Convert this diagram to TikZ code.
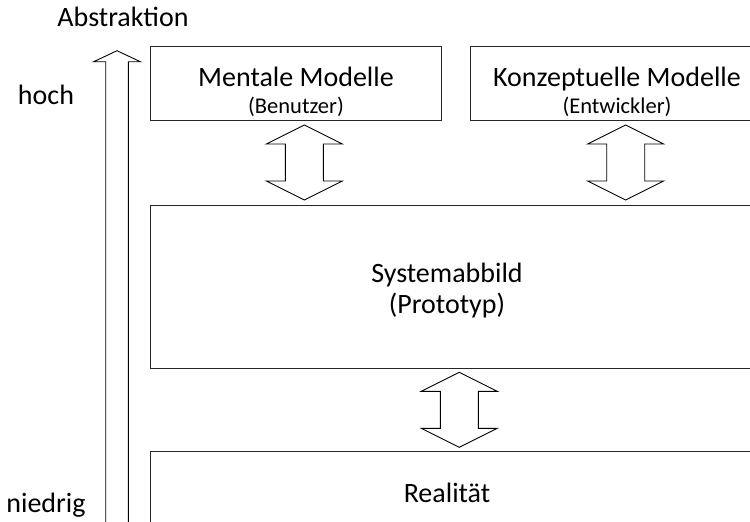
\documentclass[tikz,border=0pt]{standalone}
\usepackage{fontspec}
\setmainfont{Carlito}
\usetikzlibrary{calc}

\tikzset{
  frame/.style={draw=black!85, line width=0.9pt},
  blockarrow/.style={draw=black, line width=0.9pt, fill=white, line join=miter},
  bigtext/.style={font=\fontsize{28}{30}\selectfont, inner sep=0pt, anchor=base},
  smalltext/.style={font=\fontsize{22.5}{24}\selectfont, inner sep=0pt, anchor=base},
}

% two-headed block arrow between two tip points (#1 upper tip, #2 lower tip)
\newcommand\twoheaded[2]{%
  \draw[blockarrow] (#1) -- ($(#1)+(38,19)$) -- ($(#1)+(19,19)$)
    -- ($(#2)+(19,-19)$) -- ($(#2)+(38,-19)$) -- (#2)
    -- ($(#2)+(-38,-19)$) -- ($(#2)+(-19,-19)$)
    -- ($(#1)+(-19,19)$) -- ($(#1)+(-38,19)$) -- cycle;}

\begin{document}
\begin{tikzpicture}[x=1pt,y=-1pt]
  \useasboundingbox (0,0) rectangle (750,522);
  \clip (0,0) rectangle (750,522);

  % abstraction axis
  \coordinate (axtip) at (117,50.7);
  \coordinate (axfoot) at (117,530);
  \draw[blockarrow] (axtip) -- ($(axtip)+(23.3,11)$) -- ($(axtip)+(11.3,11)$)
    -- ($(axfoot)+(11.3,0)$) -- ($(axfoot)+(-11.3,0)$)
    -- ($(axtip)+(-11.3,11)$) -- ($(axtip)+(-23.3,11)$) -- cycle;
  \node[bigtext] (abs) at (123,27) {Abstraktion};
  \node[bigtext] (hoch) at (46,104) {hoch};
  \node[bigtext] (nied) at (46,512) {niedrig};

  % boxes
  \draw[frame] (150,46.7) rectangle (441.7,120.7);
  \draw[frame] (760,46.7) -- (470.7,46.7) -- (470.7,120.7) -- (760,120.7);
  \draw[frame] (760,205) -- (150,205) -- (150,368.3) -- (760,368.3);
  \draw[frame] (760,451) -- (150.5,451) -- (150.5,540);

  \node[bigtext] (mental) at (296,86) {Mentale Modelle};
  \node[smalltext] (benutzer) at (296,113) {(Benutzer)};
  \node[bigtext] (konzept) at (617,86) {Konzeptuelle Modelle};
  \node[smalltext] (entw) at (617,113) {(Entwickler)};
  \node[bigtext] (system) at (447,282) {Systemabbild};
  \node[bigtext] (proto) at (447,313) {(Prototyp)};
  \node[bigtext] (real) at (447,502) {Realität};

  % links between the levels
  \coordinate (m-top) at (304.3,125);   \coordinate (m-bot) at (304.3,200);
  \coordinate (k-top) at (625.7,125);   \coordinate (k-bot) at (625.7,200);
  \coordinate (s-top) at (459.3,372.3); \coordinate (s-bot) at (459.3,447.3);
  \twoheaded{m-top}{m-bot}
  \twoheaded{k-top}{k-bot}
  \twoheaded{s-top}{s-bot}
\end{tikzpicture}
\end{document}
